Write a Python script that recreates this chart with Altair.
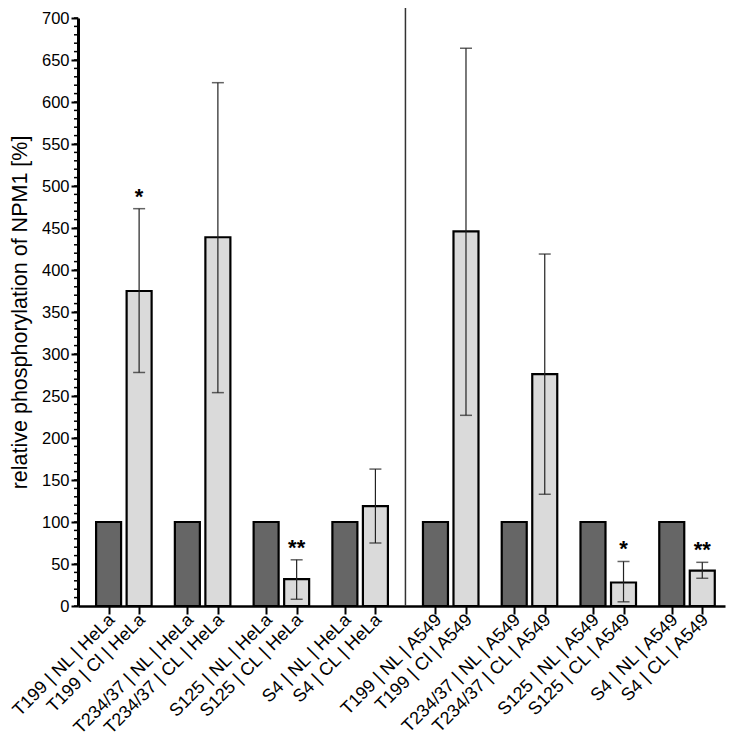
import altair as alt
import pandas as pd

# ---- data ----
labels = [
    "T199 | NL | HeLa", "T199 | Cl | HeLa",
    "T234/37 | NL | HeLa", "T234/37 | CL | HeLa",
    "S125 | NL | HeLa", "S125 | CL | HeLa",
    "S4 | NL | HeLa", "S4 | CL | HeLa",
    "T199 | NL | A549", "T199 | Cl | A549",
    "T234/37 | NL | A549", "T234/37 | CL | A549",
    "S125 | NL | A549", "S125 | CL | A549",
    "S4 | NL | A549", "S4 | CL  | A549",
]
condition = ["NL", "CL"] * 8
cell = ["HeLa"] * 8 + ["A549"] * 8
values = [100, 375, 100, 439, 100, 32, 100, 119,
          100, 446, 100, 276, 100, 28, 100, 42]
err_low = [None, 278, None, 254, None, 8, None, 75,
           None, 227, None, 133, None, 5, None, 33]
err_high = [None, 473, None, 623, None, 55, None, 163,
            None, 664, None, 419, None, 53, None, 52]
stars = ["", "*", "", "", "", "**", "", "",
         "", "", "", "", "", "*", "", "**"]
major_ticks = list(range(0, 701, 50))
minor_ticks = list(range(0, 701, 10))

# ---- layout (category index -> axis position) ----
start, pair_off, cell_gap = 0.325, 0.3875, 0.15
pos = []
for i in range(16):
    g = i // 2
    m = i % 2
    c = 1 if cell[i] == "A549" else 0
    pos.append(round(start + g + m * pair_off + c * cell_gap, 4))
sep = round((pos[7] + pos[8]) / 2, 4)
xmax = 8.0875

df = pd.DataFrame({
    "label": labels, "cond": condition, "cell": cell, "value": values,
    "lo": err_low, "hi": err_high, "star": stars, "pos": pos,
})
err_df = df.dropna(subset=["lo"])
star_df = df[df["star"] != ""]

FONT = "Liberation Sans"
label_expr = "[" + ",".join("'%s'" % l for l in labels) + "][indexof([" + \
    ",".join(str(p) for p in pos) + "], datum.value)]"

xscale = alt.Scale(domain=[0, xmax], nice=False, zero=False)
yscale = alt.Scale(domain=[0, 700], nice=False)

x_axis = alt.Axis(values=pos, labelExpr=label_expr, labelAngle=-45,
                  labelAlign="right", labelBaseline="middle", labelFontSize=18,
                  labelFont=FONT, labelColor="black", tickSize=8, tickWidth=2,
                  tickColor="black", domainColor="black", domainWidth=2.5,
                  grid=False, title=None, labelPadding=3, labelOffset=3,
                  labelOverlap=False, labelBound=False, labelFlush=False)
y_axis = alt.Axis(values=major_ticks, labelFontSize=16.5, labelFont=FONT,
                  labelColor="black", tickSize=7, tickWidth=2, tickColor="black",
                  domainColor="black", domainWidth=3, grid=False,
                  title="relative phosphorylation of NPM1 [%]", titleFont=FONT,
                  titleFontSize=21.5, titleFontWeight="normal", titleColor="black",
                  titlePadding=10, labelPadding=2)

bars = alt.Chart(df).mark_bar(size=25, stroke="black", strokeWidth=2.2).encode(
    x=alt.X("pos:Q", scale=xscale, axis=x_axis),
    y=alt.Y("value:Q", scale=yscale, axis=y_axis),
    fill=alt.Fill("cond:N", scale=alt.Scale(domain=["NL", "CL"],
                                           range=["#666666", "#dadada"]),
                  legend=None),
)

minor = alt.Chart(pd.DataFrame({"t": minor_ticks})).mark_rule(
    color="black", strokeWidth=1.5).encode(
    y=alt.Y("t:Q", scale=yscale),
    x=alt.value(-4), x2=alt.value(0),
)

rules = alt.Chart(err_df).mark_rule(color="#222222", strokeWidth=1.2).encode(
    x=alt.X("pos:Q", scale=xscale),
    y=alt.Y("lo:Q", scale=yscale),
    y2="hi:Q",
)
caps_hi = alt.Chart(err_df).mark_tick(orient="horizontal", size=12, thickness=1.5,
                                      color="#222222").encode(
    x=alt.X("pos:Q", scale=xscale), y=alt.Y("hi:Q", scale=yscale))
caps_lo = alt.Chart(err_df).mark_tick(orient="horizontal", size=12, thickness=1.5,
                                      color="#222222").encode(
    x=alt.X("pos:Q", scale=xscale), y=alt.Y("lo:Q", scale=yscale))

star_text = alt.Chart(star_df).mark_text(font=FONT, fontSize=22, fontWeight="bold",
                                         dy=-12, baseline="middle", color="black").encode(
    x=alt.X("pos:Q", scale=xscale), y=alt.Y("hi:Q", scale=yscale), text="star:N")

sep_rule = alt.Chart(pd.DataFrame({"x": [sep]})).mark_rule(
    color="#333333", strokeWidth=1.5).encode(
    x=alt.X("x:Q", scale=xscale), y=alt.value(-10), y2=alt.value(588))

chart = alt.layer(bars, minor, rules, caps_hi, caps_lo, star_text, sep_rule).properties(
    width=647, height=588,
    padding={"left": 70, "top": 10, "right": 5, "bottom": 138},
    autosize=alt.AutoSizeParams(type="none"),
).configure_view(stroke=None)

chart.save("out.html", embed_options={"renderer": "svg", "actions": False})
